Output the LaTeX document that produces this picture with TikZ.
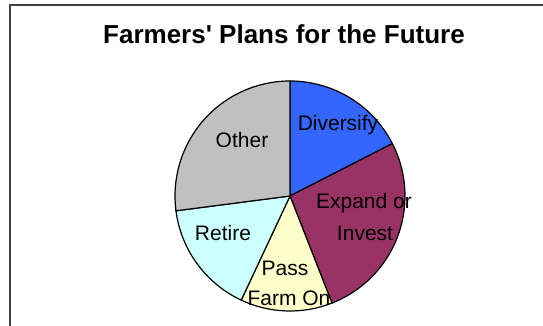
\documentclass[tikz,border=0pt]{standalone}
\usepackage{fontspec}
\setmainfont{Liberation Sans}[Ligatures=TeXOff]
\definecolor{cDiv}{HTML}{3366FF}
\definecolor{cExp}{HTML}{993366}
\definecolor{cPass}{HTML}{FFFFCC}
\definecolor{cRet}{HTML}{CCFFFF}
\definecolor{cOth}{HTML}{C0C0C0}
\definecolor{cFrame}{HTML}{404040}
\tikzset{
  slice/.style={draw=black, line width=1.2pt, line join=round},
  lbl/.style={font=\fontsize{21}{23}\selectfont, inner sep=0pt, text=black},
  ttl/.style={font=\fontsize{26}{30}\selectfont\bfseries, inner sep=0pt}
}
\begin{document}
\begin{tikzpicture}[x=1pt,y=1pt]
\useasboundingbox (0,0) rectangle (543,326);
\clip (0,0) rectangle (543,326);
\fill[white] (0,0) rectangle (543,326);
\draw[cFrame, line width=1.6pt] (10,-20) -- (10,321) -- (560,321);
\node[ttl] (title) at (284,292) {Farmers' Plans for the Future};
\begin{scope}[shift={(290,130)}]
\def\R{115}
\filldraw[slice, fill=cDiv] (0,0) -- (90:\R) arc[start angle=90, end angle=27.1, radius=\R] -- cycle;
\filldraw[slice, fill=cExp] (0,0) -- (27.1:\R) arc[start angle=27.1, end angle=-68.6, radius=\R] -- cycle;
\filldraw[slice, fill=cPass] (0,0) -- (-68.6:\R) arc[start angle=-68.6, end angle=-115.1, radius=\R] -- cycle;
\filldraw[slice, fill=cRet] (0,0) -- (-115.1:\R) arc[start angle=-115.1, end angle=-172.6, radius=\R] -- cycle;
\filldraw[slice, fill=cOth] (0,0) -- (187.4:\R) arc[start angle=187.4, end angle=90, radius=\R] -- cycle;
\end{scope}
\node[lbl] (ldiv) at (338,201) {Diversify};
\node[lbl] (loth) at (242,186) {Other};
\node[lbl] (lexp1) at (364,123) {Expand or};
\node[lbl] (lexp2) at (365,93) {Invest};
\node[lbl] (lret) at (223,93) {Retire};
\node[lbl] (lpass1) at (285,58) {Pass};
\node[lbl] (lpass2) at (289,28) {Farm On};
\end{tikzpicture}
\end{document}
